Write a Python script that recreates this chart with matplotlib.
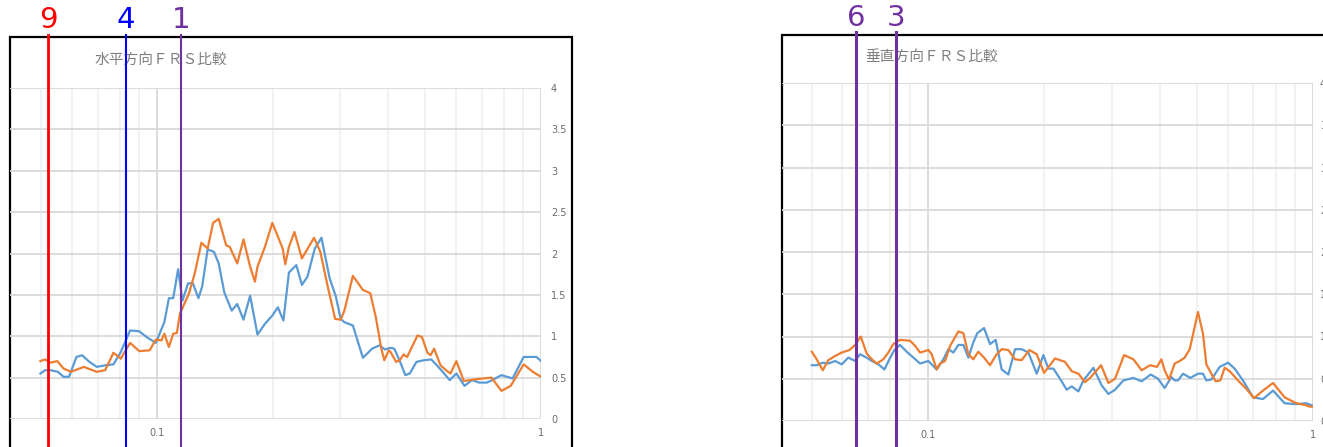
import matplotlib.pyplot as plt
from matplotlib.patches import Rectangle
from matplotlib.ticker import LogLocator, NullFormatter, FixedLocator
import matplotlib.transforms as mtransforms

# horizontal FRS comparison (left chart)
h_blue_f = [0.0497, 0.0511, 0.0528, 0.0552, 0.0571, 0.0590, 0.0617, 0.0638, 0.0667, 0.0697,
            0.0736, 0.0770, 0.0805, 0.0851, 0.0899, 0.0940, 0.0993, 0.1045, 0.1074, 0.1102,
            0.1135, 0.1165, 0.1205, 0.1240, 0.1282, 0.1311, 0.1355, 0.1407, 0.1448, 0.1497,
            0.1565, 0.1618, 0.1680, 0.1748, 0.1827, 0.1910, 0.1997, 0.2064, 0.2134, 0.2206,
            0.2306, 0.2384, 0.2465, 0.2576, 0.2681, 0.2816, 0.2923, 0.3008, 0.3076, 0.3237,
            0.3437, 0.3633, 0.3797, 0.3925, 0.4058, 0.4149, 0.4289, 0.4434, 0.4553, 0.4739,
            0.4954, 0.5178, 0.5353, 0.5595, 0.5785, 0.6020, 0.6322, 0.6607, 0.6907, 0.7220,
            0.7464, 0.7889, 0.8432, 0.9013, 0.9739, 1.0]
h_blue_v = [0.55, 0.59, 0.59, 0.57, 0.51, 0.51, 0.75, 0.77, 0.69, 0.63,
            0.65, 0.66, 0.81, 1.07, 1.06, 0.99, 0.92, 1.17, 1.46, 1.46,
            1.81, 1.43, 1.64, 1.64, 1.46, 1.60, 2.05, 2.02, 1.88, 1.53,
            1.31, 1.39, 1.20, 1.49, 1.02, 1.15, 1.25, 1.35, 1.19, 1.77,
            1.86, 1.62, 1.72, 2.06, 2.19, 1.70, 1.48, 1.21, 1.17, 1.13,
            0.74, 0.85, 0.89, 0.84, 0.86, 0.85, 0.70, 0.53, 0.55, 0.69,
            0.71, 0.72, 0.65, 0.55, 0.47, 0.55, 0.40, 0.47, 0.44, 0.44,
            0.47, 0.53, 0.49, 0.75, 0.75, 0.70]

h_orange_f = [0.0497, 0.0511, 0.0528, 0.0550, 0.0571, 0.0597, 0.0645, 0.0697, 0.0733, 0.0770,
              0.0805, 0.0851, 0.0899, 0.0957, 0.0993, 0.1027, 0.1045, 0.1074, 0.1102, 0.1127,
              0.1147, 0.1212, 0.1254, 0.1305, 0.1355, 0.1400, 0.1448, 0.1514, 0.1547, 0.1618,
              0.1680, 0.1748, 0.1799, 0.1827, 0.1910, 0.1997, 0.2125, 0.2158, 0.2206, 0.2280,
              0.2384, 0.2564, 0.2663, 0.2784, 0.2910, 0.3008, 0.3076, 0.3237, 0.3437, 0.3593,
              0.3714, 0.3839, 0.3908, 0.4013, 0.4058, 0.4195, 0.4289, 0.4385, 0.4483, 0.4634,
              0.4769, 0.4898, 0.5063, 0.5154, 0.5269, 0.5472, 0.5657, 0.5810, 0.6020, 0.6293,
              0.6534, 0.6754, 0.7430, 0.7889, 0.8339, 0.9013, 0.9524, 1.0]
h_orange_v = [0.70, 0.72, 0.68, 0.70, 0.61, 0.57, 0.63, 0.57, 0.59, 0.80,
              0.73, 0.92, 0.82, 0.83, 0.96, 0.95, 1.03, 0.87, 1.03, 1.04,
              1.27, 1.52, 1.76, 2.13, 2.06, 2.37, 2.42, 2.10, 2.08, 1.88,
              2.17, 1.84, 1.66, 1.84, 2.08, 2.37, 2.06, 1.87, 2.08, 2.26,
              1.94, 2.19, 2.02, 1.60, 1.21, 1.20, 1.31, 1.73, 1.56, 1.52,
              1.23, 0.85, 0.71, 0.83, 0.81, 0.69, 0.71, 0.78, 0.75, 0.89,
              1.01, 0.99, 0.80, 0.77, 0.85, 0.65, 0.59, 0.55, 0.70, 0.46,
              0.47, 0.48, 0.50, 0.34, 0.40, 0.66, 0.57, 0.51]

# vertical FRS comparison (right chart)
v_blue_f = [0.0500, 0.0515, 0.0534, 0.0552, 0.0575, 0.0598, 0.0622, 0.0648, 0.0667, 0.0694,
            0.0716, 0.0745, 0.0772, 0.0795, 0.0819, 0.0847, 0.0882, 0.0918, 0.0955, 0.1004,
            0.1055, 0.1098, 0.1131, 0.1165, 0.1201, 0.1237, 0.1275, 0.1313, 0.1345, 0.1400,
            0.1451, 0.1501, 0.1556, 0.1619, 0.1685, 0.1753, 0.1825, 0.1918, 0.1996, 0.2056,
            0.2119, 0.2205, 0.2294, 0.2364, 0.2460, 0.2535, 0.2691, 0.2829, 0.2944, 0.3063,
            0.3219, 0.3418, 0.3592, 0.3790, 0.3960, 0.4121, 0.4289, 0.4375, 0.4463, 0.4598,
            0.4804, 0.5029, 0.5182, 0.5287, 0.5446, 0.5725, 0.6018, 0.6262, 0.6581, 0.6987,
            0.7418, 0.7874, 0.8441, 0.9051, 0.9609, 1.0]
v_blue_v = [0.66, 0.66, 0.69, 0.68, 0.71, 0.67, 0.75, 0.71, 0.79, 0.75,
            0.71, 0.67, 0.61, 0.73, 0.84, 0.90, 0.82, 0.75, 0.68, 0.71,
            0.61, 0.73, 0.85, 0.81, 0.90, 0.90, 0.75, 0.93, 1.04, 1.10,
            0.91, 0.96, 0.61, 0.55, 0.85, 0.85, 0.81, 0.56, 0.78, 0.62,
            0.62, 0.50, 0.37, 0.41, 0.35, 0.48, 0.63, 0.42, 0.32, 0.37,
            0.48, 0.51, 0.47, 0.55, 0.50, 0.39, 0.52, 0.48, 0.48, 0.56,
            0.51, 0.56, 0.56, 0.48, 0.49, 0.64, 0.69, 0.62, 0.48, 0.28,
            0.26, 0.36, 0.21, 0.20, 0.21, 0.18]

v_orange_f = [0.0500, 0.0515, 0.0534, 0.0552, 0.0575, 0.0598, 0.0626, 0.0648, 0.0670, 0.0694,
              0.0716, 0.0737, 0.0767, 0.0790, 0.0814, 0.0847, 0.0900, 0.0927, 0.0955, 0.1004,
              0.1024, 0.1055, 0.1076, 0.1109, 0.1143, 0.1201, 0.1237, 0.1275, 0.1313, 0.1353,
              0.1400, 0.1451, 0.1504, 0.1556, 0.1619, 0.1685, 0.1753, 0.1836, 0.1918, 0.2004,
              0.2140, 0.2271, 0.2364, 0.2460, 0.2560, 0.2638, 0.2818, 0.2944, 0.3063, 0.3233,
              0.3418, 0.3592, 0.3776, 0.3936, 0.4041, 0.4121, 0.4229, 0.4375, 0.4508, 0.4644,
              0.4786, 0.5029, 0.5182, 0.5287, 0.5446, 0.5590, 0.5748, 0.5898, 0.6077, 0.6387,
              0.6714, 0.7029, 0.7418, 0.7874, 0.8441, 0.9051, 0.9515, 0.9804, 1.0]
v_orange_v = [0.82, 0.73, 0.60, 0.72, 0.77, 0.81, 0.84, 0.90, 1.00, 0.80,
              0.73, 0.68, 0.73, 0.81, 0.91, 0.96, 0.95, 0.89, 0.81, 0.84,
              0.79, 0.61, 0.68, 0.71, 0.89, 1.06, 1.04, 0.79, 0.73, 0.82,
              0.75, 0.66, 0.78, 0.85, 0.84, 0.73, 0.72, 0.84, 0.79, 0.57,
              0.74, 0.70, 0.59, 0.56, 0.46, 0.51, 0.66, 0.45, 0.50, 0.78,
              0.73, 0.60, 0.66, 0.64, 0.73, 0.60, 0.49, 0.68, 0.71, 0.75,
              0.85, 1.29, 1.03, 0.67, 0.56, 0.47, 0.48, 0.63, 0.59, 0.48,
              0.38, 0.27, 0.36, 0.45, 0.28, 0.21, 0.19, 0.17, 0.17]

y_ticks = [0, 0.5, 1, 1.5, 2, 2.5, 3, 3.5, 4]
y_labels = ['0', '0.5', '1', '1.5', '2', '2.5', '3', '3.5', '4']

# marker lines drawn over the charts: (frequency, label, colour)
h_marks = [(0.0520, '9', '#FF0000'), (0.0829, '4', '#0000FF'), (0.1155, '1', '#7030A0')]
v_marks = [(0.0653, '6', '#7030A0'), (0.0829, '3', '#7030A0')]

W, H = 1323, 447
fig = plt.figure(figsize=(W / 100, H / 100), dpi=100)
cjk = ['Noto Sans CJK JP', 'DejaVu Sans']


def setup(ax, xmin, title, title_xy, marks, line_top, label_y, mark_lw, ypad):
    ax.set_facecolor('none')
    ax.set_xscale('log')
    ax.set_xlim(xmin, 1)
    ax.set_ylim(0, 4)
    ax.xaxis.set_major_locator(FixedLocator([0.1, 1]))
    ax.set_xticklabels(['0.1', '1'])
    ax.xaxis.set_minor_locator(LogLocator(base=10, subs=range(2, 10)))
    ax.xaxis.set_minor_formatter(NullFormatter())
    ax.set_yticks(y_ticks)
    ax.set_yticklabels(y_labels)
    ax.yaxis.tick_right()
    ax.tick_params(axis='both', which='both', length=0, labelsize=7, labelcolor='#6b6b6b')
    ax.tick_params(axis='x', pad=6.5)
    ax.tick_params(axis='y', pad=ypad)
    for s in ax.spines.values():
        s.set_visible(False)
    ax.grid(True, which='major', axis='both', color='#D9D9D9', lw=1.3, zorder=0)
    ax.grid(True, which='minor', axis='x', color='#EFEFEF', lw=1.1, zorder=0)
    ax.set_axisbelow(True)
    ax.text(title_xy[0], title_xy[1], title, transform=ax.transAxes, ha='left', va='center',
            fontsize=10.6, color='#7F7F7F', family=cjk)
    trans = mtransforms.blended_transform_factory(ax.transData, ax.transAxes)
    for (f, lab, c), lw in zip(marks, mark_lw):
        ax.axvline(f, ymin=-0.12, ymax=line_top, color=c, lw=lw, clip_on=False, zorder=10)
        ax.text(f, label_y, lab, transform=trans, ha='center', va='baseline',
                fontsize=21, color=c, family='DejaVu Sans')


ax1 = fig.add_axes([10 / W, (H - 419) / H, 531 / W, 331 / H])
ax1.plot(h_blue_f, h_blue_v, color='#5B9BD5', lw=1.6, zorder=3)
ax1.plot(h_orange_f, h_orange_v, color='#ED7D31', lw=1.6, zorder=4)
setup(ax1, 0.04142, '水平方向ＦＲＳ比較', (0.160, 1.0846), h_marks, 1.16, 1.181, [2.0, 1.5, 1.5], 7.2)

ax2 = fig.add_axes([782 / W, (H - 421) / H, 531 / W, 338 / H])
ax2.plot(v_blue_f, v_blue_v, color='#5B9BD5', lw=1.6, zorder=3)
ax2.plot(v_orange_f, v_orange_v, color='#ED7D31', lw=1.6, zorder=4)
setup(ax2, 0.04185, '垂直方向ＦＲＳ比較', (0.156, 1.077), v_marks, 1.151, 1.17, [2.2, 2.2], 5.0)

# black frames round each chart (cut off by the screenshot)
fig.add_artist(Rectangle((9.5 / W, -0.05), (572 - 9.5) / W, 1 - 36.5 / H + 0.05,
                         transform=fig.transFigure, fill=False, ec='black', lw=1.6, zorder=-1))
fig.add_artist(Rectangle((781.5 / W, -0.05), 0.5, 1 - 34.5 / H + 0.05,
                         transform=fig.transFigure, fill=False, ec='black', lw=1.6, zorder=-1))

fig.savefig('out.png', dpi=100)
